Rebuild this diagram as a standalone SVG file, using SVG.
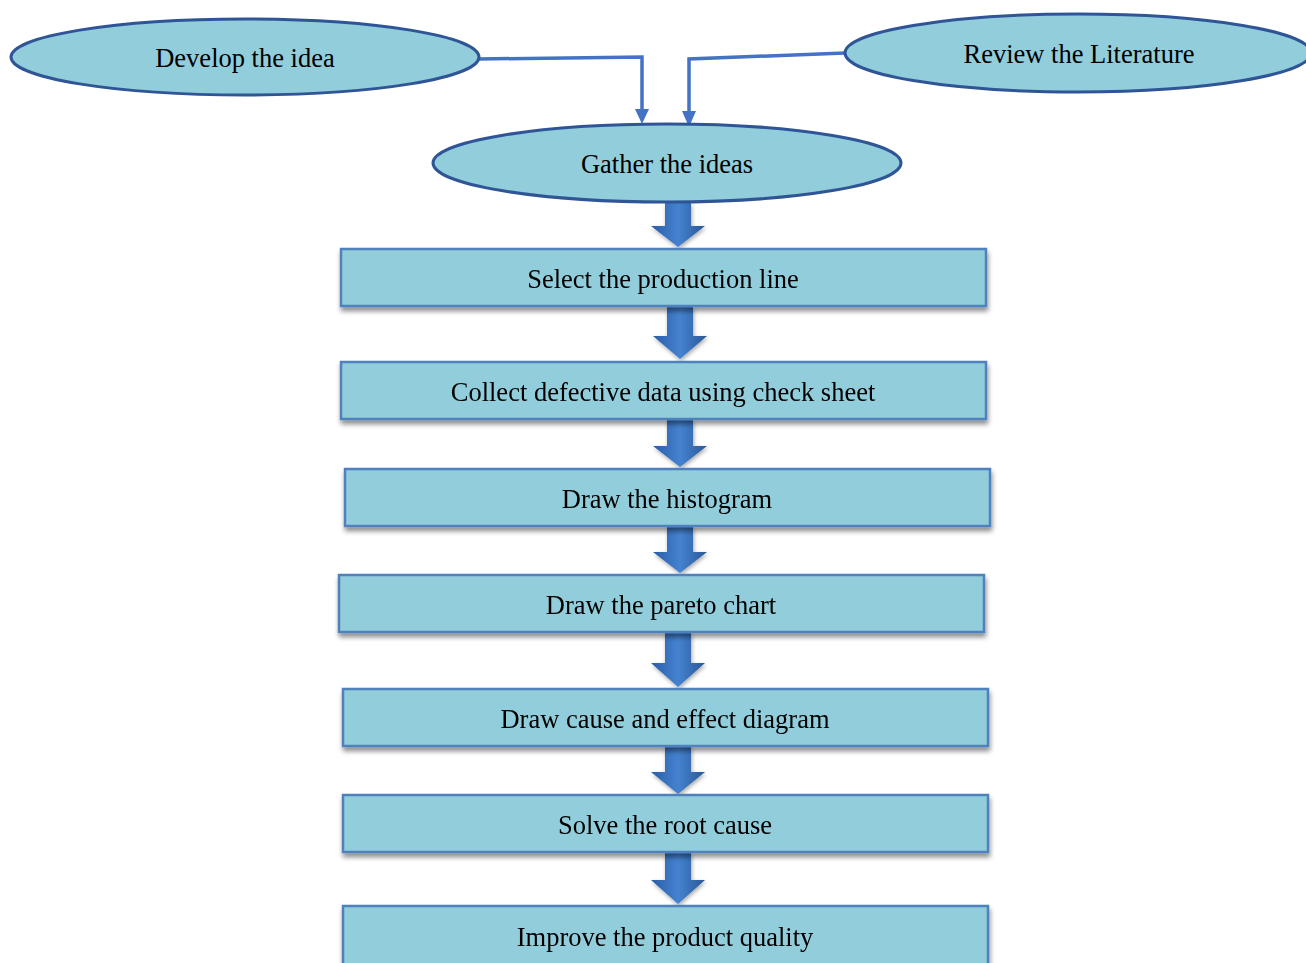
<svg xmlns="http://www.w3.org/2000/svg" width="1306" height="963" viewBox="0 0 1306 963">
<style>
.ell{fill:#92CDDC;stroke:#2F5597;stroke-width:3}
.box{fill:#92CDDC;stroke:#4F81BD;stroke-width:2.5}
.t{font-family:"Liberation Serif","Times New Roman",serif;font-size:26.5px;fill:#000;text-anchor:middle}
.conn{fill:none;stroke:#4472C4;stroke-width:3.5}
.head{fill:#4472C4}
.blk{fill:url(#bg)}
</style>
<defs>
<linearGradient id="bg" x1="0" y1="0" x2="1" y2="0">
<stop offset="0" stop-color="#2A5DA8"/>
<stop offset="0.5" stop-color="#4582D0"/>
<stop offset="1" stop-color="#2A5896"/>
</linearGradient>
<filter id="sh" x="-5%" y="-20%" width="110%" height="150%">
<feGaussianBlur in="SourceAlpha" stdDeviation="2.5"/>
<feOffset dx="1" dy="4" result="b"/>
<feComponentTransfer><feFuncA type="linear" slope="0.45"/></feComponentTransfer>
<feMerge><feMergeNode/><feMergeNode in="SourceGraphic"/></feMerge>
</filter>
<filter id="ash" x="-30%" y="-20%" width="160%" height="150%">
<feGaussianBlur in="SourceAlpha" stdDeviation="2"/>
<feOffset dx="1" dy="2" result="b"/>
<feComponentTransfer><feFuncA type="linear" slope="0.35"/></feComponentTransfer>
<feMerge><feMergeNode/><feMergeNode in="SourceGraphic"/></feMerge>
</filter>
</defs>
<g id="connectors">
<path class="conn" d="M479,59 L642,57 L642,110"/>
<path class="head" d="M635,109 L649,109 L642,124 Z"/>
<path class="conn" d="M845,53 L689,59 L689,112"/>
<path class="head" d="M682,111 L696,111 L689,127 Z"/>
<g filter="url(#ash)">
<path class="blk" d="M665,203 H691 V226 H705 L678,247 L651,226 H665 Z"/>
<path class="blk" d="M667,307 H693 V336 H707 L680,359 L653,336 H667 Z"/>
<path class="blk" d="M667,420 H693 V446 H707 L680,467 L653,446 H667 Z"/>
<path class="blk" d="M667,527 H693 V552 H707 L680,573 L653,552 H667 Z"/>
<path class="blk" d="M665,633 H691 V663 H705 L678,687 L651,663 H665 Z"/>
<path class="blk" d="M665,747 H691 V772 H705 L678,794 L651,772 H665 Z"/>
<path class="blk" d="M665,853 H691 V880 H705 L678,904 L651,880 H665 Z"/>
</g>
</g>
<g id="develop">
<ellipse class="ell" cx="245" cy="57" rx="234" ry="38"/>
<text class="t" x="245" y="67">Develop the idea</text>
</g>
<g id="review">
<ellipse class="ell" cx="1078" cy="53" rx="233" ry="39"/>
<text class="t" x="1079" y="63">Review the Literature</text>
</g>
<g id="gather">
<ellipse class="ell" cx="667" cy="163" rx="234" ry="39"/>
<text class="t" x="667" y="173">Gather the ideas</text>
</g>
<g id="select" filter="url(#sh)">
<rect class="box" x="341" y="249" width="645" height="57"/>
<text class="t" x="663" y="288">Select the production line</text>
</g>
<g id="collect" filter="url(#sh)">
<rect class="box" x="341" y="362" width="645" height="57"/>
<text class="t" x="663" y="401">Collect defective data using check sheet</text>
</g>
<g id="histogram" filter="url(#sh)">
<rect class="box" x="345" y="469" width="645" height="57"/>
<text class="t" x="667" y="508">Draw the histogram</text>
</g>
<g id="pareto" filter="url(#sh)">
<rect class="box" x="339" y="575" width="645" height="57"/>
<text class="t" x="661" y="614">Draw the pareto chart</text>
</g>
<g id="cause" filter="url(#sh)">
<rect class="box" x="343" y="689" width="645" height="57"/>
<text class="t" x="665" y="728">Draw cause and effect diagram</text>
</g>
<g id="solve" filter="url(#sh)">
<rect class="box" x="343" y="795" width="645" height="57"/>
<text class="t" x="665" y="834">Solve the root cause</text>
</g>
<g id="improve" filter="url(#sh)">
<rect class="box" x="343" y="906" width="645" height="70"/>
<text class="t" x="665" y="946">Improve the product quality</text>
</g>
</svg>
